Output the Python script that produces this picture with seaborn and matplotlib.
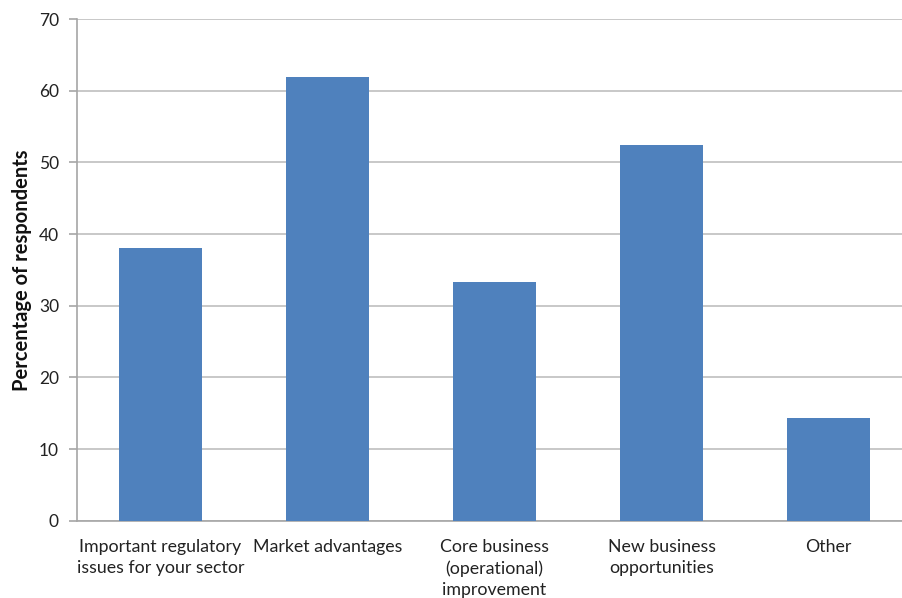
import matplotlib
matplotlib.use("Agg")
import matplotlib.pyplot as plt
import seaborn as sns
import pandas as pd
import numpy as np

categories = ["Important regulatory\nissues for your sector", "Market advantages",
              "Core business\n(operational)\nimprovement", "New business\nopportunities", "Other"]
values = [38.1, 61.9, 33.3, 52.4, 14.3]
yticks = [0, 10, 20, 30, 40, 50, 60, 70]

sns.set_style("white")
plt.rcParams['font.family'] = ['Lato', 'DejaVu Sans']

df = pd.DataFrame({"category": categories, "value": values})

fig = plt.figure(figsize=(9.03, 5.98), dpi=100)
ax = fig.add_axes([77/903, (598-520.7)/598, (912-77)/903, (520.7-19)/598])
sns.barplot(data=df, x="category", y="value", color="#4F81BD", saturation=1, width=0.5,
            linewidth=0, edgecolor="none", ax=ax)

ax.set_ylim(0, 70)
ax.set_xlim(-0.5, 4.5)
ax.set_yticks(yticks)
ax.yaxis.grid(True, color="#BFBFBF", linewidth=1.2, zorder=0)
ax.set_axisbelow(True)
for b in ax.patches:
    b.set_zorder(3)

ax.set_xticks(range(len(categories)))
ax.set_xticklabels(categories, fontsize=12.8, color="#222222", linespacing=1.4)
ax.tick_params(axis='x', which='major', length=0, pad=13)
ax.set_xticks(np.arange(-0.5, 5.0, 1.0), minor=True)
ax.tick_params(axis='x', which='minor', length=6, width=1.2, color="#A6A6A6", direction='out')
ax.tick_params(axis='y', which='major', length=6, width=1.2, color="#A6A6A6", direction='out',
               labelsize=12.5, labelcolor="#222222", pad=7, left=True)

ax.set_xlabel("")
ax.set_ylabel("Percentage of respondents", fontsize=14.5, fontweight='bold', color="#111111", labelpad=5)

for s in ["top", "right"]:
    ax.spines[s].set_visible(False)
for s in ["left", "bottom"]:
    ax.spines[s].set_color("#A6A6A6")
    ax.spines[s].set_linewidth(1.2)

fig.savefig("out.png", dpi=100)
